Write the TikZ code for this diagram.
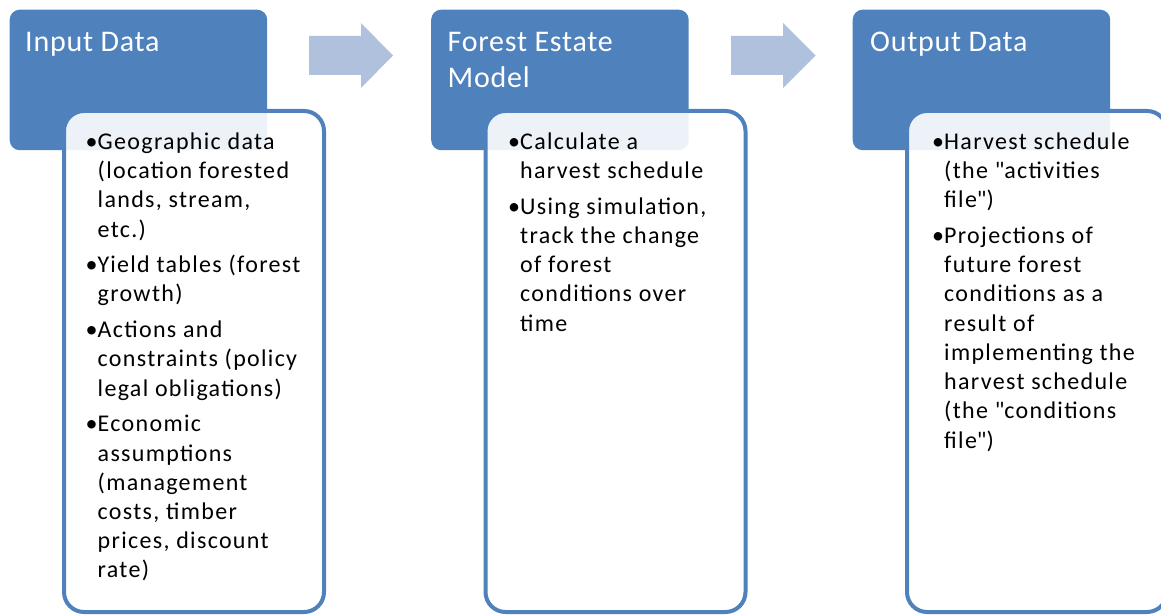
\documentclass[tikz,border=0pt]{standalone}
\usepackage{fontspec}
\setmainfont{Carlito}
\newfontfamily\listfont{Carlito}[LetterSpace=5.5]
\newfontfamily\headfont{Carlito}[LetterSpace=2.5]
\usetikzlibrary{positioning, calc}
\definecolor{smartblue}{RGB}{79,129,189}
\definecolor{arrowblue}{RGB}{176,193,222}
% one bullet item with hanging lines
\newcommand{\bitem}[1]{\par\hangindent=12pt\hangafter=1\noindent\makebox[12pt][l]{•}#1\par}
\newcommand{\bodytext}[1]{\parbox[t]{250pt}{\raggedright\let\\\newline\parskip=6.5pt #1}}

\begin{document}
\begin{tikzpicture}[x=1pt, y=-1pt,
  header/.style={fill=smartblue, rounded corners=10pt, minimum width=257.5pt, minimum height=140.5pt, anchor=north west, inner sep=0pt},
  listbox/.style={draw=smartblue, line width=4pt, fill=white, fill opacity=0.9, rounded corners=20pt, minimum width=260pt, minimum height=501pt, anchor=north west, inner sep=0pt},
  headtext/.style={text=white, font=\headfont\fontsize{30}{36}\selectfont, inner sep=0pt, anchor=base west},
  listtext/.style={text=black, font=\listfont\fontsize{24}{29.2}\selectfont, inner sep=0pt, anchor=base west},
  blockarrow/.style={fill=arrowblue}]
  \useasboundingbox (0,0) rectangle (1161,615);
  \clip (0,0) rectangle (1161,615);

  % headers
  \node[header] (head1) at (9.5,9.5) {};
  \node[header] (head2) at (431,9.5) {};
  \node[header] (head3) at (852.5,9.5) {};

  % boxes with the lists
  \node[listbox] (box1) at (62,109) {};
  \node[listbox] (box2) at (483.5,109) {};
  \node[listbox] (box3) at (905,109) {};

  % arrows between the steps
  \fill[blockarrow] (309,36) -- (361,36) -- (361,23) -- (393,55.5) -- (361,88) -- (361,75) -- (309,75) -- cycle;
  \fill[blockarrow] (731,36) -- (783,36) -- (783,23) -- (815.5,55.5) -- (783,88) -- (783,75) -- (731,75) -- cycle;

  % titles
  \node[headtext] (title1) at ($(head1.north west)+(15.5,42.5)$) {Input Data};
  \node[headtext] (title2) at ($(head2.north west)+(16.5,42.5)$) {\parbox[t]{240pt}{Forest Estate\\Model}};
  \node[headtext] (title3) at ($(head3.north west)+(17.5,42.5)$) {Output Data};

  % lists
  \node[listtext] (list1) at ($(box1.north west)+(23.5,40.5)$) {\bodytext{%
    \bitem{Geographic data\\(location forested\\lands, stream,\\etc.)}
    \bitem{Yield tables (forest\\growth)}
    \bitem{Actions and\\constraints (policy\\legal obligations)}
    \bitem{Economic\\assumptions\\(management\\costs, timber\\prices, discount\\rate)}}};
  \node[listtext] (list2) at ($(box2.north west)+(24.5,40.5)$) {\bodytext{%
    \bitem{Calculate a\\harvest schedule}
    \bitem{Using simulation,\\track the change\\of forest\\conditions over\\time}}};
  \node[listtext] (list3) at ($(box3.north west)+(27,40.5)$) {\bodytext{%
    \bitem{Harvest schedule\\(the \textquotedbl activities\\file\textquotedbl)}
    \bitem{Projections of\\future forest\\conditions as a\\result of\\implementing the\\harvest schedule\\(the \textquotedbl conditions\\file\textquotedbl)}}};
\end{tikzpicture}
\end{document}
